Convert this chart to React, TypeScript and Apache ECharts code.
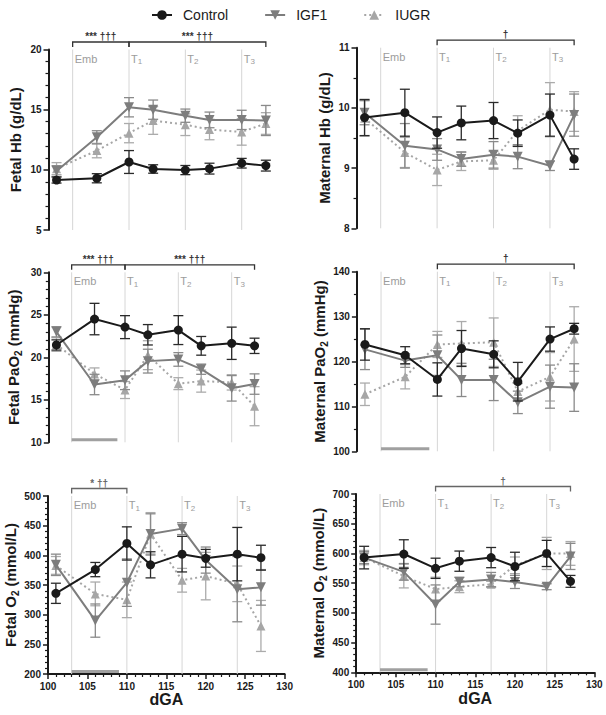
import React, { useEffect, useRef } from "react";
import * as echarts from "echarts";

// ---------- data ----------
const days = [101, 106, 110, 113, 117, 120, 124, 127];
const groupNames = ["Control", "IGF1", "IUGR"];

const fetalHbControl = [9.15, 9.3, 10.65, 10.07, 9.98, 10.1, 10.55, 10.35];
const fetalHbControlSem = [0.25, 0.38, 0.95, 0.35, 0.38, 0.45, 0.4, 0.45];
const fetalHbIGF1 = [9.9, 12.7, 15.2, 15.0, 14.5, 14.15, 14.15, 14.1];
const fetalHbIGF1Sem = [0.45, 0.55, 0.8, 0.8, 0.55, 0.65, 0.8, 1.25];
const fetalHbIUGR = [10.1, 11.6, 13.05, 14.1, 13.75, 13.35, 13.15, 13.85];
const fetalHbIUGRSem = [0.5, 0.6, 0.8, 1.15, 0.9, 0.85, 1.1, 0.9];

const matHbControl = [9.84, 9.92, 9.59, 9.75, 9.79, 9.58, 9.88, 9.15];
const matHbControlSem = [0.3, 0.39, 0.26, 0.28, 0.3, 0.22, 0.35, 0.17];
const matHbIGF1 = [9.92, 9.37, 9.31, 9.15, 9.22, 9.19, 9.04, 9.88];
const matHbIGF1Sem = [0.2, 0.37, 0.18, 0.12, 0.22, 0.2, 0.08, 0.35];
const matHbIUGR = [9.83, 9.26, 8.97, 9.11, 9.13, 9.62, 9.97, 9.94];
const matHbIUGRSem = [0.3, 0.25, 0.26, 0.15, 0.15, 0.25, 0.45, 0.33];

const fetalPaO2Control = [21.45, 24.5, 23.55, 22.65, 23.2, 21.35, 21.65, 21.35];
const fetalPaO2ControlSem = [0.6, 1.85, 1.35, 1.2, 1.7, 1.1, 1.9, 0.9];
const fetalPaO2IGF1 = [23.0, 16.8, 17.3, 19.55, 19.75, 18.6, 16.35, 16.85];
const fetalPaO2IGF1Sem = [0.6, 1.2, 1.1, 1.4, 0.8, 0.6, 1.5, 1.2];
const fetalPaO2IUGR = [21.5, 18.05, 16.15, 20.25, 16.9, 17.2, 17.05, 14.25];
const fetalPaO2IUGRSem = [0.8, 0.7, 1.0, 1.7, 0.7, 1.3, 0.9, 2.3];

const matPaO2Control = [123.8, 121.4, 116.0, 122.9, 121.6, 115.5, 125.0, 127.3];
const matPaO2ControlSem = [3.5, 1.9, 3.7, 4.0, 3.0, 4.3, 2.7, 1.2];
const matPaO2IGF1 = [122.7, 120.2, 121.4, 115.9, 115.9, 110.9, 114.4, 114.2];
const matPaO2IGF1Sem = [4.5, 1.5, 4.5, 3.7, 4.6, 2.5, 4.8, 5.3];
const matPaO2IUGR = [112.7, 116.6, 123.8, 124.0, 124.3, 113.3, 116.6, 125.0];
const matPaO2IUGRSem = [2.5, 2.7, 2.9, 4.9, 5.4, 1.8, 5.4, 7.2];

const fetalO2Control = [336, 376, 420, 384, 402, 395, 402, 396];
const fetalO2ControlSem = [17, 12, 28, 22, 30, 15, 45, 21];
const fetalO2IGF1 = [384, 290, 354, 436, 445, 392, 343, 346];
const fetalO2IGF1Sem = [18, 28, 40, 34, 10, 22, 55, 30];
const fetalO2IUGR = [383, 335, 325, 436, 358, 365, 352, 281];
const fetalO2IUGRSem = [15, 20, 30, 36, 20, 40, 30, 43];

const matO2Control = [593, 599, 575, 587, 593, 578, 600, 553];
const matO2ControlSem = [19, 24, 17, 17, 17, 24, 22, 10];
const matO2IGF1 = [593, 569, 514, 552, 556, 552, 544, 595];
const matO2IGF1Sem = [10, 14, 33, 8, 12, 11, 5, 22];
const matO2IUGR = [593, 562, 540, 544, 548, 580, 600, 600];
const matO2IUGRSem = [12, 20, 20, 10, 5, 14, 27, 20];

// reference days (embolisation start and treatment points)
const markerDays = [103, 110, 117, 124];
const markerTexts = ["{a|Emb}", "{a|T}{b|1}", "{a|T}{b|2}", "{a|T}{b|3}"];
const embolisationSpan = [103, 109];

const fetalHbBrackets = [[103, 110], [110, 127]];
const fetalHbBracketTexts = ["*** †††", "*** †††"];
const matHbBrackets = [[110, 127]];
const matHbBracketTexts = ["†"];
const fetalPaO2Brackets = [[103, 110], [110, 127]];
const fetalPaO2BracketTexts = ["*** †††", "*** †††"];
const matPaO2Brackets = [[110, 127]];
const matPaO2BracketTexts = ["†"];
const fetalO2Brackets = [[103, 110]];
const fetalO2BracketTexts = ["* ††"];
const matO2Brackets = [[110, 127]];
const matO2BracketTexts = ["†"];

// ---------- styling ----------
const FONT = "'Liberation Sans', Arial, Helvetica, sans-serif";
const INK = "#1a1a1a";
const MARK = "#9c9c9c";
const groupColors = ["#1a1a1a", "#7d7d7d", "#a6a6a6"];
const errColors = ["#2a2a2a", "#8a8a8a", "#ababab"];

const panels = [
  {
    name: "{t|Fetal Hb (g/dL)}", min: 5, max: 20, interval: 5, minorSplit: 5,
    grid: { left: 48.5, top: 49.5, width: 241.5, height: 180.5 }, nameGap: 23,
    values: [fetalHbControl, fetalHbIGF1, fetalHbIUGR],
    sems: [fetalHbControlSem, fetalHbIGF1Sem, fetalHbIUGRSem],
    brackets: fetalHbBrackets, bracketTexts: fetalHbBracketTexts, bracketColor: "#333",
    bar: false, bottom: false,
  },
  {
    name: "{t|Maternal Hb (g/dL)}", min: 8, max: 11, interval: 1, minorSplit: 2,
    grid: { left: 356.5, top: 47.7, width: 241.8, height: 180.6 }, nameGap: 22,
    values: [matHbControl, matHbIGF1, matHbIUGR],
    sems: [matHbControlSem, matHbIGF1Sem, matHbIUGRSem],
    brackets: matHbBrackets, bracketTexts: matHbBracketTexts, bracketColor: "#333",
    bar: false, bottom: false,
  },
  {
    name: "{t|Fetal PaO}{s|2}{t| (mmHg)}", min: 10, max: 30, interval: 5, minorSplit: 5,
    grid: { left: 48.8, top: 272.3, width: 228.6, height: 170 }, nameGap: 25,
    values: [fetalPaO2Control, fetalPaO2IGF1, fetalPaO2IUGR],
    sems: [fetalPaO2ControlSem, fetalPaO2IGF1Sem, fetalPaO2IUGRSem],
    brackets: fetalPaO2Brackets, bracketTexts: fetalPaO2BracketTexts, bracketColor: "#333",
    bar: true, bottom: false,
  },
  {
    name: "{t|Maternal PaO}{s|2}{t| (mmHg)}", min: 100, max: 140, interval: 10, minorSplit: 2,
    grid: { left: 356.9, top: 271.7, width: 241.4, height: 179.6 }, nameGap: 23,
    values: [matPaO2Control, matPaO2IGF1, matPaO2IUGR],
    sems: [matPaO2ControlSem, matPaO2IGF1Sem, matPaO2IUGRSem],
    brackets: matPaO2Brackets, bracketTexts: matPaO2BracketTexts, bracketColor: "#333",
    bar: true, bottom: false,
  },
  {
    name: "{t|Fetal O}{s|2}{t| (mmol/L)}", min: 200, max: 500, interval: 50, minorSplit: 5,
    grid: { left: 48, top: 496, width: 236.6, height: 178 }, nameGap: 25,
    values: [fetalO2Control, fetalO2IGF1, fetalO2IUGR],
    sems: [fetalO2ControlSem, fetalO2IGF1Sem, fetalO2IUGRSem],
    brackets: fetalO2Brackets, bracketTexts: fetalO2BracketTexts, bracketColor: "#666",
    bar: true, bottom: true,
  },
  {
    name: "{t|Maternal O}{s|2}{t| (mmol/L)}", min: 400, max: 700, interval: 50, minorSplit: 5,
    grid: { left: 356.2, top: 494, width: 238.1, height: 178.3 }, nameGap: 23,
    values: [matO2Control, matO2IGF1, matO2IUGR],
    sems: [matO2ControlSem, matO2IGF1Sem, matO2IUGRSem],
    brackets: matO2Brackets, bracketTexts: matO2BracketTexts, bracketColor: "#666",
    bar: true, bottom: true,
  },
];

const nameRich = {
  t: { fontSize: 15, fontWeight: "bold", color: INK, fontFamily: FONT, lineHeight: 20 },
  s: { fontSize: 10, fontWeight: "bold", color: INK, fontFamily: FONT, lineHeight: 10, verticalAlign: "bottom" },
};

const markerRich = {
  a: { fontSize: 11, fill: MARK, color: MARK, fontFamily: FONT, lineHeight: 14 },
  b: { fontSize: 8, fill: MARK, color: MARK, fontFamily: FONT, lineHeight: 8, verticalAlign: "bottom" },
};

function buildOption() {
  const grids: any[] = [];
  const xAxes: any[] = [];
  const yAxes: any[] = [];
  const series: any[] = [];

  panels.forEach((p, i) => {
    grids.push({ ...p.grid, containLabel: false });
    xAxes.push({
      gridIndex: i,
      type: "value",
      min: 100,
      max: 130,
      interval: 5,
      show: p.bottom,
      axisLine: { show: true, onZero: false, lineStyle: { color: INK, width: 2 } },
      axisTick: { show: true, length: 5, lineStyle: { color: INK, width: 1.5 } },
      minorTick: { show: true, splitNumber: 5, length: 3, lineStyle: { color: INK, width: 1.2 } },
      splitLine: { show: false },
      axisLabel: { fontSize: 10, fontWeight: "bold", color: INK, fontFamily: FONT, margin: 7 },
      name: p.bottom ? "dGA" : "",
      nameLocation: "middle",
      nameGap: 15,
      nameTextStyle: { fontSize: 16, fontWeight: "bold", color: INK, fontFamily: FONT },
    });
    yAxes.push({
      gridIndex: i,
      type: "value",
      min: p.min,
      max: p.max,
      interval: p.interval,
      axisLine: { show: true, onZero: false, lineStyle: { color: INK, width: 2 } },
      axisTick: { show: true, length: 5, lineStyle: { color: INK, width: 1.5 } },
      minorTick: { show: true, splitNumber: p.minorSplit, length: 3, lineStyle: { color: INK, width: 1.2 } },
      splitLine: { show: false },
      axisLabel: { fontSize: 10, fontWeight: "bold", color: INK, fontFamily: FONT, margin: 7 },
      name: p.name,
      nameLocation: "middle",
      nameGap: p.nameGap,
      nameTextStyle: { fontSize: 15, fontWeight: "bold", color: INK, fontFamily: FONT, rich: nameRich },
    });

    // reference lines + labels
    series.push({
      type: "custom",
      name: "markers" + i,
      xAxisIndex: i,
      yAxisIndex: i,
      silent: true,
      clip: false,
      z: 1,
      encode: { x: 0, y: 1 },
      data: markerDays.map((d) => [d, p.min]),
      renderItem: (params: any, api: any) => {
        const cs = params.coordSys;
        const x = api.coord([api.value(0), api.value(1)])[0];
        return {
          type: "group",
          children: [
            {
              type: "line",
              shape: { x1: x, y1: cs.y, x2: x, y2: cs.y + cs.height },
              style: { stroke: "#d6d6d6", lineWidth: 1 },
            },
            {
              type: "text",
              x: x + 2,
              y: cs.y + 2,
              style: {
                text: markerTexts[params.dataIndex],
                rich: markerRich,
                fill: MARK,
                fontSize: 11,
                fontFamily: FONT,
                align: "left",
                verticalAlign: "top",
              },
            },
          ],
        };
      },
    });

    // embolisation bar
    if (p.bar) {
      series.push({
        type: "custom",
        name: "emb" + i,
        xAxisIndex: i,
        yAxisIndex: i,
        silent: true,
        clip: false,
        z: 2,
        encode: { x: [0, 1], y: 2 },
        data: [[embolisationSpan[0], embolisationSpan[1], p.min]],
        renderItem: (params: any, api: any) => {
          const x1 = api.coord([api.value(0), api.value(2)])[0];
          const x2 = api.coord([api.value(1), api.value(2)])[0];
          const y0 = api.coord([api.value(0), api.value(2)])[1];
          return {
            type: "rect",
            shape: { x: x1, y: y0 - 4, width: x2 - x1, height: 3 },
            style: { fill: "#a0a0a0" },
          };
        },
      });
    }

    // significance brackets
    series.push({
      type: "custom",
      name: "brackets" + i,
      xAxisIndex: i,
      yAxisIndex: i,
      silent: true,
      clip: false,
      z: 2,
      encode: { x: [0, 1], y: 2 },
      data: p.brackets.map((b) => [b[0], b[1], p.min]),
      renderItem: (params: any, api: any) => {
        const cs = params.coordSys;
        const x1 = api.coord([api.value(0), api.value(2)])[0];
        const x2 = api.coord([api.value(1), api.value(2)])[0];
        const yl = cs.y - 7.5;
        const ye = cs.y - 2.5;
        return {
          type: "group",
          children: [
            {
              type: "polyline",
              shape: { points: [[x1, ye], [x1, yl], [x2, yl], [x2, ye]] },
              style: { stroke: p.bracketColor, lineWidth: 1.3, fill: null },
            },
            {
              type: "text",
              x: (x1 + x2) / 2,
              y: yl - 0.5,
              style: {
                text: p.bracketTexts[params.dataIndex],
                fill: p.bracketColor,
                fontSize: 10,
                fontWeight: "bold",
                fontFamily: FONT,
                align: "center",
                verticalAlign: "bottom",
              },
            },
          ],
        };
      },
    });

    // error bars and lines for each group (draw IUGR first, control last)
    [2, 1, 0].forEach((g) => {
      const vals = p.values[g];
      const sem = p.sems[g];
      const ec = errColors[g];
      series.push({
        type: "custom",
        name: groupNames[g] + " SEM " + i,
        xAxisIndex: i,
        yAxisIndex: i,
        silent: true,
        z: 3 + (2 - g) * 2,
        encode: { x: 0, y: [1, 2] },
        data: days.map((d, k) => [d, vals[k] - sem[k], vals[k] + sem[k]]),
        renderItem: (params: any, api: any) => {
          const x = api.value(0);
          const lo = api.coord([x, api.value(1)]);
          const hi = api.coord([x, api.value(2)]);
          const hw = 5;
          const st = { stroke: ec, lineWidth: 1.3 };
          return {
            type: "group",
            children: [
              { type: "line", shape: { x1: lo[0], y1: lo[1], x2: hi[0], y2: hi[1] }, style: st },
              { type: "line", shape: { x1: lo[0] - hw, y1: lo[1], x2: lo[0] + hw, y2: lo[1] }, style: st },
              { type: "line", shape: { x1: hi[0] - hw, y1: hi[1], x2: hi[0] + hw, y2: hi[1] }, style: st },
            ],
          };
        },
      });
      series.push({
        type: "line",
        name: groupNames[g],
        xAxisIndex: i,
        yAxisIndex: i,
        z: 4 + (2 - g) * 2,
        data: days.map((d, k) => [d, vals[k]]),
        symbol: g === 0 ? "circle" : "triangle",
        symbolRotate: g === 1 ? 180 : 0,
        symbolSize: g === 0 ? 9 : g === 1 ? 10 : 9,
        lineStyle: { color: groupColors[g], width: 2, type: g === 2 ? [2, 3] : "solid" },
        itemStyle: { color: groupColors[g] },
        emphasis: { disabled: true },
      });
    });
  });

  return {
    animation: false,
    backgroundColor: "#ffffff",
    legend: {
      data: groupNames,
      left: 146,
      top: 3,
      itemWidth: 20,
      itemHeight: 12,
      itemGap: 36,
      textStyle: { fontSize: 14, color: INK, fontFamily: FONT, padding: [0, 0, 0, 6] },
    },
    grid: grids,
    xAxis: xAxes,
    yAxis: yAxes,
    series,
  };
}

export default function App() {
  const ref = useRef<HTMLDivElement>(null);
  useEffect(() => {
    if (!ref.current) return;
    const chart = echarts.init(ref.current, null, { renderer: "svg" });
    chart.setOption(buildOption() as any);
    return () => chart.dispose();
  }, []);
  return (
    <div
      ref={ref}
      style={{ position: "absolute", left: 0, top: 0, width: 606, height: 715, background: "#fff" }}
    />
  );
}
